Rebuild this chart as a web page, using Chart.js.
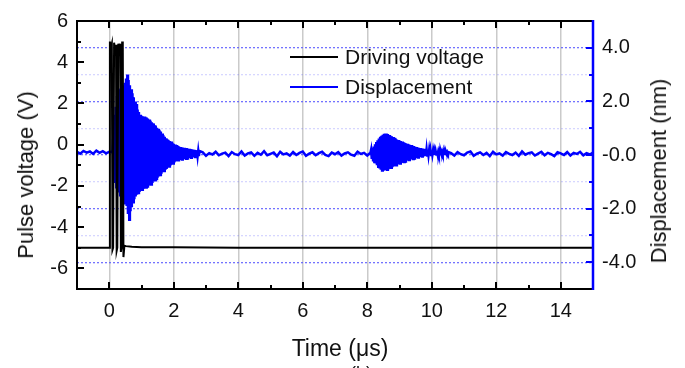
<!DOCTYPE html>
<html>
<head>
<meta charset="utf-8">
<script src="https://cdn.jsdelivr.net/npm/chart.js@4.4.1/dist/chart.umd.min.js"></script>
<style>
  html, body { margin: 0; padding: 0; background: #fff; }
  #wrap { position: relative; width: 685px; height: 368px; overflow: hidden;
          font-family: Arial, "Liberation Sans", sans-serif; color: #111; }
  #wrap canvas { position: absolute; left: 0; top: 0; }
  .axtitle { position: absolute; font-size: 22px; white-space: nowrap; line-height: 1; }
  .rot { transform: translate(-50%, -50%) rotate(-90deg); }
  .legline { position: absolute; left: 290px; width: 48px; height: 2px; }
  .legtext { position: absolute; left: 345px; font-size: 21px; line-height: 22px; white-space: nowrap; }
</style>
</head>
<body>
<div id="wrap">
  <canvas id="chart" width="685" height="368"></canvas>
  <div class="axtitle rot" style="left:26px; top:175px;">Pulse voltage (V)</div>
  <div class="axtitle rot" style="left:659px; top:171px;">Displacement (nm)</div>
  <div class="axtitle" style="left:340px; top:348px; font-size:23px; transform: translate(-50%, -50%);">Time (μs)</div>
  <div class="axtitle" style="left:350px; top:364px; font-size:18px;">(b)</div>
  <div class="legline" style="top:56px; background:#000;"></div>
  <div class="legtext" style="top:46px;">Driving voltage</div>
  <div class="legline" style="top:86px; background:#0000ff;"></div>
  <div class="legtext" style="top:76px;">Displacement</div>
</div>
<script>
// axis ranges
const timeMin = -1, timeMax = 15;
const voltMin = -7, voltMax = 6;
const dispMin = -5, dispMax = 5;

// driving voltage (V) vs time (us)
const voltTime = [-1, 0, 0.02, 0.05, 0.08, 0.1, 0.12, 0.15, 0.18, 0.21, 0.23, 0.25, 0.28, 0.31,
  0.34, 0.36, 0.38, 0.40, 0.42, 0.44, 0.47, 0.52, 0.7, 1.0, 2, 4, 6, 8, 10, 12, 15];
const voltValue = [-5, -5, 5, 4.7, 4.9, -5.1, -5, 4.95, 4.6, 4.85, -5.15, -5, 4.9, 4.6,
  4.9, -5.2, -5, 5.0, 4.7, -5.45, -4.9, -4.92, -4.95, -4.97, -4.98, -5, -5, -5, -5, -5, -5];

// displacement (nm): quiet stretches sampled every 0.1 us
const baseStep = 0.1;
const baseAStart = -1.0;
const baseA = [0.12, 0.05, 0.15, 0.09, 0.13, 0.04, 0.16, 0.08, 0.14, 0.06, 0.12, 0.1];

const baseBStart = 2.9;
const baseB = [0.1, -0.03, 0.07, 0.02, 0.12, -0.01, 0.05, 0.09, -0.04, 0.11, 0.03, 0.0, 0.13,
  -0.02, 0.06, 0.1, -0.03, 0.08, 0.01, 0.14, -0.01, 0.04, 0.09, -0.05, 0.12, 0.02, 0.06, -0.02,
  0.11, 0.0, 0.08, 0.13, -0.03, 0.05, 0.1, -0.01, 0.07, 0.12, 0.0, -0.04, 0.09, 0.03, 0.11,
  -0.02, 0.06, 0.1, 0.01, -0.03, 0.12, 0.04, 0.08, -0.02, 0.09];

const baseCStart = 10.6;
const baseC = [0.07, -0.02, 0.11, 0.03, -0.01, 0.09, 0.13, -0.03, 0.05, 0.1, 0.0, 0.08, -0.04,
  0.12, 0.02, 0.06, -0.02, 0.11, 0.04, 0.0, 0.09, -0.03, 0.13, 0.01, 0.07, 0.1, -0.02, 0.05,
  0.12, -0.01, 0.08, 0.03, -0.04, 0.1, 0.06, 0.0, 0.11, -0.02, 0.08, 0.04, 0.12, -0.01, 0.07,
  0.02, 0.09];

// bursts: crest (upper) and trough (lower) readings, half-cycle 0.02 us
const burstStep = 0.04;
const burst1Start = 0.12;
const burst1Upper = [0.6, 1.5, 1.8, 2.2, 2.45, 2.4, 2.5, 2.55, 2.6, 2.7, 2.85, 3.0, 2.8, 2.6,
  2.45, 2.3, 2.15, 2.0, 1.9, 1.7, 1.6, 1.5, 1.46, 1.45, 1.44, 1.43, 1.4, 1.36, 1.32, 1.28,
  1.22, 1.18, 1.12, 1.1, 1.02, 0.98, 0.92, 0.88, 0.8, 0.74, 0.68, 0.62, 0.58, 0.55, 0.52,
  0.5, 0.46, 0.42, 0.39, 0.37, 0.34, 0.32, 0.3, 0.29, 0.28, 0.27, 0.26, 0.26, 0.24, 0.23,
  0.22, 0.21, 0.2, 0.19, 0.18, 0.17, 0.16, 0.15];
const burst1Lower = [-0.8, -1.0, -1.2, -1.3, -1.4, -1.5, -1.6, -1.7, -1.8, -1.85, -1.9, -2.2,
  -2.42, -2.1, -1.95, -1.76, -1.65, -1.55, -1.48, -1.42, -1.38, -1.34, -1.3, -1.27, -1.24,
  -1.21, -1.18, -1.15, -1.12, -1.1, -1.04, -0.98, -0.94, -0.9, -0.85, -0.8, -0.75, -0.7,
  -0.64, -0.6, -0.56, -0.52, -0.47, -0.43, -0.39, -0.36, -0.32, -0.28, -0.24, -0.22, -0.2,
  -0.19, -0.18, -0.17, -0.16, -0.15, -0.14, -0.13, -0.12, -0.11, -0.1, -0.09, -0.08, -0.07,
  -0.06, -0.05, -0.04];

const burst2Start = 8.12;
const burst2Upper = [0.2, 0.26, 0.32, 0.4, 0.48, 0.55, 0.62, 0.68, 0.72, 0.76, 0.79, 0.8, 0.8,
  0.78, 0.75, 0.72, 0.7, 0.67, 0.64, 0.61, 0.58, 0.56, 0.54, 0.52, 0.5, 0.48, 0.46, 0.44,
  0.42, 0.4, 0.38, 0.37, 0.35, 0.33, 0.31, 0.3, 0.28, 0.27, 0.26, 0.25, 0.24, 0.23, 0.22,
  0.21, 0.2, 0.19, 0.18, 0.17, 0.17, 0.16, 0.15, 0.15, 0.14, 0.14, 0.13, 0.13, 0.12, 0.12,
  0.12, 0.11, 0.11];
const burst2Lower = [-0.15, -0.2, -0.26, -0.32, -0.38, -0.44, -0.5, -0.55, -0.58, -0.59, -0.58,
  -0.57, -0.55, -0.53, -0.5, -0.48, -0.46, -0.43, -0.4, -0.38, -0.36, -0.34, -0.32, -0.3,
  -0.28, -0.26, -0.24, -0.22, -0.2, -0.19, -0.17, -0.16, -0.15, -0.13, -0.12, -0.1, -0.09,
  -0.08, -0.07, -0.06, -0.05, -0.04, -0.03, -0.02, -0.01, 0.0, 0.0, 0.01, 0.01, 0.02, 0.02,
  0.03, 0.03, 0.03, 0.04, 0.04, 0.04, 0.05, 0.05, 0.05];

function segment(t0, step, values) {
  return values.map((v, i) => ({ x: +(t0 + i * step).toFixed(2), y: v }));
}

function burst(t0, upper, lower) {
  const pts = [];
  upper.forEach((u, i) => {
    pts.push({ x: +(t0 + i * burstStep).toFixed(2), y: u });
    if (i < lower.length) pts.push({ x: +(t0 + i * burstStep + burstStep / 2).toFixed(2), y: lower[i] });
  });
  return pts;
}

const voltPoints = voltTime.map((t, i) => ({ x: t, y: voltValue[i] }));
const dispPoints = [
  ...segment(baseAStart, baseStep, baseA),
  ...burst(burst1Start, burst1Upper, burst1Lower),
  ...segment(baseBStart, baseStep, baseB),
  ...burst(burst2Start, burst2Upper, burst2Lower),
  ...segment(baseCStart, baseStep, baseC)
];

const tickFont = { family: 'Arial, "Liberation Sans", sans-serif', size: 20 };
const tickColor = '#111';

// frame and inward tick marks, Origin style
const frameTicks = {
  id: 'frameTicks',
  afterDraw(chart) {
    const { ctx, chartArea: a, scales } = chart;
    ctx.save();
    ctx.lineCap = 'butt';

    ctx.strokeStyle = '#000';
    ctx.lineWidth = 2;
    scales.x.ticks.forEach(t => {
      if (t.value <= timeMin || t.value >= timeMax) return;
      const px = Math.round(scales.x.getPixelForValue(t.value));
      const len = t.value % 2 === 0 ? 7 : 4;
      ctx.beginPath();
      ctx.moveTo(px, a.bottom); ctx.lineTo(px, a.bottom - len);
      ctx.moveTo(px, a.top); ctx.lineTo(px, a.top + len);
      ctx.stroke();
    });
    scales.y.ticks.forEach(t => {
      if (t.value <= voltMin || t.value >= voltMax) return;
      const py = Math.round(scales.y.getPixelForValue(t.value));
      const len = t.value % 2 === 0 ? 7 : 4;
      ctx.beginPath();
      ctx.moveTo(a.left, py); ctx.lineTo(a.left + len, py);
      ctx.stroke();
    });

    ctx.beginPath();
    ctx.moveTo(a.left, a.top); ctx.lineTo(a.right, a.top);
    ctx.moveTo(a.left, a.bottom); ctx.lineTo(a.right, a.bottom);
    ctx.moveTo(a.left, a.top - 1); ctx.lineTo(a.left, a.bottom + 1);
    ctx.stroke();

    ctx.strokeStyle = '#0000ff';
    scales.y1.ticks.forEach(t => {
      if (t.value <= dispMin || t.value >= dispMax) return;
      const py = Math.round(scales.y1.getPixelForValue(t.value));
      const len = t.value % 2 === 0 ? 7 : 4;
      ctx.beginPath();
      ctx.moveTo(a.right, py); ctx.lineTo(a.right - len, py);
      ctx.stroke();
    });
    ctx.lineWidth = 2.5;
    ctx.beginPath();
    ctx.moveTo(a.right, a.top - 1); ctx.lineTo(a.right, a.bottom + 1);
    ctx.stroke();
    ctx.restore();
  }
};

const chart = new Chart(document.getElementById('chart'), {
  type: 'line',
  data: {
    datasets: [
      {
        label: 'Driving voltage',
        data: voltPoints,
        yAxisID: 'y',
        borderColor: '#000000',
        borderWidth: 2,
        pointRadius: 0,
        tension: 0
      },
      {
        label: 'Displacement',
        data: dispPoints,
        yAxisID: 'y1',
        borderColor: '#0000ff',
        borderWidth: 2.5,
        pointRadius: 0,
        tension: 0
      }
    ]
  },
  options: {
    responsive: false,
    animation: false,
    layout: { padding: { top: 16, left: 0, right: 0, bottom: 0 } },
    plugins: { legend: { display: false }, tooltip: { enabled: false } },
    scales: {
      x: {
        type: 'linear',
        min: timeMin,
        max: timeMax,
        ticks: {
          stepSize: 1, autoSkip: false, maxRotation: 0, padding: 10,
          font: tickFont, color: tickColor,
          callback: v => (v % 2 === 0 && v >= 0 && v < timeMax) ? String(v) : ''
        },
        grid: {
          drawTicks: false,
          lineWidth: 1.5,
          color: c => (c.tick && c.tick.value % 2 === 0 && c.tick.value >= 0 && c.tick.value < timeMax)
            ? '#cacaca' : 'rgba(0,0,0,0)'
        },
        border: { display: false },
        afterFit: s => { s.height = 79; }
      },
      y: {
        position: 'left',
        min: voltMin,
        max: voltMax,
        ticks: {
          stepSize: 1, autoSkip: false, padding: 9,
          font: tickFont, color: tickColor,
          callback: v => v % 2 === 0 ? String(v) : ''
        },
        grid: { display: false, drawTicks: false },
        border: { display: false },
        afterFit: s => { s.width = 77; }
      },
      y1: {
        position: 'right',
        min: dispMin,
        max: dispMax,
        ticks: {
          stepSize: 1, autoSkip: false, padding: 9,
          font: tickFont, color: tickColor,
          callback: v => v % 2 === 0 ? (v === 0 ? '-0.0' : v.toFixed(1)) : ''
        },
        grid: {
          drawTicks: false,
          lineWidth: 1.3,
          color: c => {
            if (!c.tick || c.tick.value <= dispMin || c.tick.value >= dispMax) return 'rgba(0,0,0,0)';
            return c.tick.value % 2 === 0 ? 'rgba(90,90,255,0.85)' : 'rgba(90,90,255,0.25)';
          }
        },
        border: { display: false, dash: [2, 2] },
        afterFit: s => { s.width = 92; }
      }
    }
  },
  plugins: [frameTicks]
});
</script>
</body>
</html>
